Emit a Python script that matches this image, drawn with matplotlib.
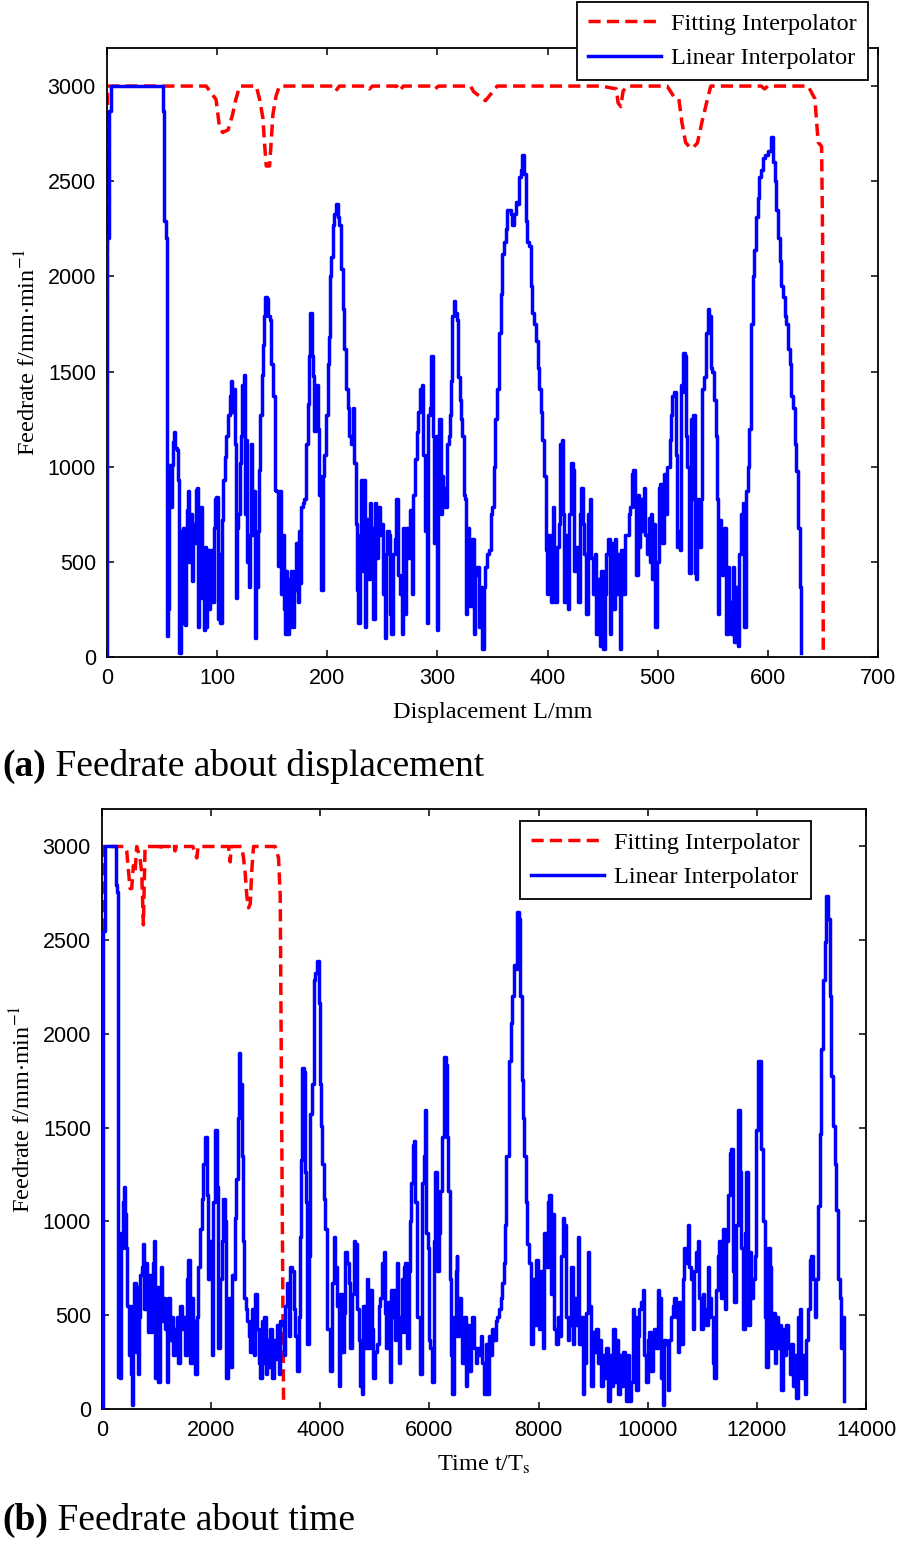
import matplotlib
matplotlib.use("Agg")
import matplotlib.pyplot as plt
from matplotlib.text import Annotation

# ------------------------------------------------------------
# data
# ------------------------------------------------------------
# (a) feedrate vs displacement, linear interpolator
disp_lin_L = [0, 0.3, 2, 4, 50.5, 51, 52, 54, 54.2, 55.7, 56.3, 58.1, 58.7, 59.6, 60.8, 61.7,
              63.3, 64.2, 65.4, 65.7, 66.9, 68.4, 69.3, 70.8, 71.7, 72.9, 73.8, 74.7, 75.9,
              76.8, 78.3, 79.8, 80.7, 81.9, 82.8, 83.7, 85.2, 86.7, 88.0, 88.9, 89.8, 91.0,
              92.5, 93.4, 94.9, 96.4, 97.3, 98.5, 99.4, 100.9, 101.8, 103.0, 104.2, 105.4,
              106.9, 108.4, 109.9, 111.4, 113.0, 113.9, 115.1, 116.0, 116.9, 118.1, 119.0,
              120.5, 122.0, 122.9, 124.1, 125.3, 126.5, 127.4, 128.6, 129.5, 131.0, 131.9,
              133.1, 134.3, 135.5, 137.0, 138.0, 139.2, 140.4, 141.6, 142.8, 143.7, 145.2,
              146.1, 147.6, 149.1, 150.6, 152.1, 153.6, 155.1, 156.6, 158.1, 159.6, 160.5,
              161.7, 162.7, 163.6, 164.8, 165.7, 167.2, 168.7, 170.2, 171.7, 173.2, 174.1,
              175.3, 176.2, 177.7, 179.2, 180.7, 182.2, 183.7, 184.6, 185.8, 186.7, 188.3,
              189.8, 191.3, 192.8, 193.7, 194.6, 195.8, 197.3, 198.8, 200.3, 201.2, 202.4,
              203.3, 204.8, 206.3, 207.8, 209.3, 210.8, 212.3, 213.9, 215.4, 216.9, 218.4,
              219.9, 221.4, 222.9, 224.4, 225.9, 227.4, 228.3, 229.3, 230.8, 232.3, 232.9,
              234.5, 235.4, 236.9, 238.4, 239.9, 241.5, 243.0, 244.5, 246.0, 247.6, 249.1,
              250.6, 252.1, 253.0, 254.3, 255.8, 257.3, 258.2, 259.8, 261.3, 262.8, 264.3,
              265.9, 267.4, 268.3, 269.8, 271.0, 271.9, 273.5, 275.0, 276.5, 278.0, 279.6,
              281.1, 282.6, 284.1, 285.7, 287.2, 288.7, 290.2, 291.8, 293.3, 294.2, 295.4,
              296.3, 297.3, 298.5, 299.4, 300.9, 301.8, 303.0, 303.9, 305.5, 307.0, 308.5,
              310.1, 311.0, 312.2, 313.4, 314.6, 316.2, 317.7, 318.6, 320.1, 321.3, 322.6,
              323.8, 325.3, 326.2, 326.8, 328.4, 329.9, 331.4, 332.9, 334.5, 336.0, 337.5,
              339.0, 340.6, 342.1, 343.6, 345.1, 346.6, 348.2, 349.7, 351.2, 352.7, 354.3,
              355.8, 357.3, 358.8, 360.4, 361.9, 363.4, 364.9, 366.5, 368.0, 369.5, 371.0,
              372.6, 374.1, 375.6, 377.1, 378.7, 380.2, 381.7, 383.2, 384.8, 386.3, 387.8,
              389.3, 390.9, 392.4, 393.9, 395.4, 397.0, 398.5, 399.4, 400.6, 401.8, 403.0,
              404.6, 405.5, 407.0, 408.5, 410.1, 411.6, 413.1, 414.3, 415.2, 416.8, 418.3,
              419.8, 421.3, 422.9, 424.4, 425.9, 427.4, 429.0, 430.5, 432.0, 433.5, 435.1,
              436.6, 438.1, 439.6, 441.2, 442.7, 444.2, 445.7, 447.3, 448.8, 450.3, 451.8,
              453.4, 454.9, 456.4, 457.9, 459.5, 461.0, 462.5, 464.0, 465.5, 467.1, 468.6,
              470.1, 473.5, 475.0, 476.5, 478.0, 479.6, 480.5, 481.7, 482.9, 484.1, 485.7,
              487.2, 488.7, 490.2, 491.8, 492.7, 493.9, 494.8, 496.3, 497.9, 499.4, 500.9,
              502.4, 504.0, 505.5, 507.0, 508.5, 510.1, 511.0, 512.2, 513.4, 514.6, 516.2,
              517.7, 519.2, 520.1, 521.3, 522.3, 523.2, 524.4, 525.6, 526.8, 528.4, 529.9,
              531.4, 532.3, 533.5, 534.8, 536.0, 537.5, 539.0, 540.5, 542.1, 543.6, 544.5,
              545.7, 546.6, 548.2, 549.7, 551.2, 552.7, 553.7, 554.9, 556.1, 557.3, 558.8,
              560.4, 561.9, 563.4, 564.9, 566.5, 568.0, 569.5, 571.0, 572.6, 574.1, 575.6,
              577.1, 578.7, 580.2, 581.7, 583.2, 584.8, 586.3, 587.8, 589.3, 590.9, 592.4,
              593.9, 595.4, 597.0, 600.0, 603.0, 604.6, 606.1, 607.6, 609.1, 610.7, 612.2,
              613.7, 615.2, 616.8, 618.3, 619.8, 621.3, 622.9, 624.4, 625.9, 627.4, 628.9,
              630.5]
disp_lin_f = [0, 2200, 2870, 3000, 3000, 2870, 2290, 2200, 110, 250, 1010, 790, 1010, 1130, 1180, 1100,
              1090, 930, 660, 20, 660, 180, 680, 170, 500, 770, 870, 500, 750,
              400, 700, 600, 880, 890, 160, 580, 790, 310, 140, 580, 160, 560,
              250, 560, 290, 290, 680, 830, 840, 200, 540, 180, 720, 930,
              1050, 1160, 1270, 1370, 1450, 1290, 1410, 1120, 310, 680, 750,
              1020, 1160, 1430, 1480, 750, 1140, 500, 370, 640, 1120, 640,
              870, 100, 370, 660, 980, 1270, 1480, 1640, 1790, 1890, 1880,
              1790, 1770, 1540, 1370, 880, 870, 480, 870, 330, 640, 250,
              120, 450, 120, 410, 160, 450, 160, 350, 600, 290, 660,
              390, 790, 810, 830, 1120, 1330, 1580, 1810, 1580, 1475, 1190,
              1430, 1200, 850, 950, 350, 950, 1060, 1270, 1540, 1680, 2000,
              2100, 2270, 2330, 2380, 2310, 2270, 2040, 1830, 1620, 1410, 1310,
              1160, 1120, 1310, 1020, 700, 350, 180, 640, 930, 450, 930,
              160, 725, 410, 810, 680, 200, 810, 520, 790, 640, 700,
              330, 100, 540, 660, 640, 225, 120, 540, 620, 830, 430,
              330, 120, 680, 475, 225, 680, 520, 770, 330, 850, 1040,
              1180, 1290, 1410, 1430, 1060, 660, 180, 1270, 1310, 1580, 1580,
              1160, 600, 1160, 140, 1140, 1250, 750, 950, 890, 790, 1120,
              1160, 1270, 1450, 1790, 1870, 1810, 1770, 1470, 1350, 1250, 1160,
              850, 830, 225, 680, 390, 270, 620, 120, 430, 475, 160,
              370, 40, 370, 475, 540, 560, 750, 790, 1000, 1250, 1410,
              1700, 1910, 2120, 2180, 2250, 2350, 2350, 2330, 2270, 2330, 2390,
              2380, 2520, 2560, 2640, 2540, 2290, 2180, 2160, 1950, 1810, 1750,
              1660, 1520, 1410, 1290, 1140, 950, 560, 330, 640, 370, 290,
              790, 560, 290, 580, 700, 1120, 1140, 750, 290, 640, 250,
              750, 1020, 980, 450, 580, 290, 750, 890, 700, 540, 225,
              750, 830, 520, 330, 540, 120, 410, 60, 450, 40, 330,
              540, 620, 120, 600, 250, 620, 330, 540, 40, 560, 330,
              640, 750, 790, 960, 980, 790, 430, 850, 580, 830, 660,
              890, 640, 540, 730, 500, 750, 410, 700, 160, 500, 890,
              910, 600, 960, 750, 1000, 1000, 1140, 1270, 1370, 1390, 1060,
              580, 660, 560, 1430, 1390, 1600, 1580, 1160, 1000, 440, 1250,
              830, 1270, 440, 410, 830, 580, 830, 1410, 1470, 1700, 1700,
              1830, 1790, 1520, 1500, 1350, 1160, 830, 225, 720, 475, 430,
              680, 120, 475, 290, 120, 475, 80, 370, 60, 540, 750,
              810, 160, 870, 1000, 1200, 1750, 2000, 2140, 2310, 2410, 2520,
              2560, 2620, 2640, 2660, 2730, 2600, 2500, 2350, 2200, 2080, 1950,
              1890, 1790, 1750, 1620, 1540, 1370, 1310, 1120, 975, 680, 370,
              20]

# (a) feedrate vs displacement, fitting interpolator
disp_fit_L = [0, 0.5, 90, 99, 102, 105, 110, 114, 117, 120.5, 135.5, 138.6, 141.6, 143, 144.6,
              147.6, 149, 150.6, 153.6, 156.6, 205, 207.8, 211, 236, 238.4, 241, 263, 265.9,
              269, 295, 297.9, 301, 330, 333, 343.6, 354.3, 448.8, 462.5, 464, 466.5, 468.6,
              473, 508.5, 514.6, 519.2, 522, 525.3, 528.4, 531.4, 536, 540.5, 545.1, 548.2,
              594, 597, 600, 636.6, 642.7, 645.7, 648.8, 649.7, 650.3]
disp_fit_f = [0, 3000, 3000, 2930, 2790, 2756, 2770, 2850, 2930, 3000, 3000, 2930, 2830, 2700, 2580,
              2580, 2700, 2850, 2950, 3000, 3000, 2975, 3000, 3000, 2985, 3000, 3000, 2975,
              3000, 3000, 2985, 3000, 3000, 2970, 2923, 3000, 3000, 2985, 2912, 2892, 2975,
              3000, 3000, 2945, 2933, 2808, 2704, 2683, 2673, 2700, 2820, 2930, 3000,
              3000, 2985, 3000, 3000, 2933, 2704, 2683, 2204, 20]

# (b) feedrate vs time, linear interpolator
time_lin_t = [0, 10, 50, 238, 257, 281, 300, 330, 342, 361, 379, 404, 422, 440, 465, 495, 514, 532,
              550, 575, 593, 618, 636, 654, 679, 697, 728, 758, 777, 801, 820, 850, 869, 893,
              911, 930, 954, 972, 1003, 1034, 1064, 1083, 1107, 1125, 1156, 1186, 1217, 1248,
              1278, 1309, 1339, 1370, 1400, 1431, 1462, 1492, 1523, 1553, 1584, 1615, 1645,
              1676, 1706, 1737, 1767, 1798, 1829, 1859, 1890, 1920, 1933, 1951, 1982, 2012,
              2043, 2073, 2104, 2134, 2165, 2196, 2226, 2257, 2275, 2300, 2318, 2349, 2379,
              2410, 2434, 2459, 2483, 2508, 2532, 2563, 2581, 2606, 2636, 2654, 2685, 2716,
              2746, 2777, 2807, 2838, 2868, 2899, 2930, 2948, 2972, 3003, 3021, 3052, 3082,
              3113, 3144, 3174, 3205, 3235, 3266, 3296, 3327, 3358, 3388, 3419, 3449, 3480,
              3511, 3541, 3572, 3603, 3633, 3651, 3670, 3694, 3712, 3731, 3755, 3786, 3816,
              3847, 3878, 3908, 3939, 3969, 3988, 4012, 4037, 4061, 4092, 4122, 4153, 4183,
              4214, 4245, 4275, 4306, 4336, 4367, 4397, 4428, 4459, 4489, 4520, 4550, 4581,
              4612, 4642, 4673, 4703, 4734, 4761, 4791, 4822, 4853, 4883, 4914, 4945, 4975,
              5006, 5037, 5068, 5098, 5129, 5160, 5178, 5209, 5233, 5264, 5282, 5301, 5325,
              5344, 5362, 5387, 5405, 5423, 5448, 5466, 5497, 5515, 5540, 5558, 5589, 5620,
              5638, 5650, 5669, 5693, 5712, 5742, 5773, 5804, 5834, 5865, 5896, 5926, 5945,
              5969, 5988, 6018, 6049, 6080, 6110, 6141, 6172, 6202, 6233, 6252, 6276, 6301,
              6325, 6344, 6368, 6387, 6417, 6448, 6479, 6497, 6509, 6540, 6571, 6601, 6632,
              6663, 6693, 6724, 6755, 6785, 6816, 6847, 6877, 6908, 6939, 6969, 7000, 7031,
              7061, 7092, 7123, 7153, 7184, 7215, 7245, 7276, 7307, 7337, 7368, 7386, 7411,
              7429, 7460, 7491, 7521, 7552, 7583, 7613, 7644, 7662, 7693, 7717, 7736, 7767,
              7797, 7828, 7859, 7889, 7920, 7951, 7981, 8012, 8043, 8074, 8104, 8135, 8166,
              8196, 8227, 8258, 8288, 8319, 8350, 8380, 8411, 8442, 8472, 8503, 8534, 8564,
              8595, 8626, 8656, 8687, 8718, 8748, 8779, 8810, 8840, 8871, 8902, 8932, 8963,
              8994, 9025, 9055, 9086, 9117, 9147, 9178, 9209, 9239, 9270, 9301, 9331, 9362,
              9393, 9423, 9454, 9485, 9515, 9546, 9577, 9602, 9633, 9664, 9694, 9725, 9755,
              9786, 9817, 9847, 9878, 9908, 9939, 9969, 10000, 10031, 10061, 10092, 10122,
              10153, 10184, 10214, 10245, 10275, 10306, 10337, 10367, 10398, 10428, 10459,
              10489, 10520, 10551, 10581, 10612, 10643, 10673, 10704, 10734, 10765, 10795,
              10826, 10856, 10887, 10918, 10948, 10979, 11009, 11040, 11070, 11101, 11132,
              11162, 11193, 11223, 11254, 11284, 11315, 11346, 11376, 11407, 11437, 11468,
              11499, 11529, 11560, 11590, 11621, 11651, 11682, 11713, 11743, 11774, 11804,
              11835, 11866, 11896, 11927, 11957, 11988, 12018, 12049, 12079, 12110, 12141,
              12171, 12202, 12232, 12263, 12294, 12324, 12355, 12385, 12416, 12447, 12477,
              12508, 12538, 12569, 12600, 12630, 12661, 12691, 12722, 12753, 12783, 12814,
              12845, 12875, 12906, 12936, 12967, 12998, 13028, 13059, 13089, 13120, 13151,
              13181, 13212, 13243, 13273, 13304, 13334, 13365, 13396, 13426, 13457, 13487,
              13518, 13549, 13579, 13598]
time_lin_f = [0, 2550, 3000, 3000, 2796, 2755, 170, 163, 939, 857, 1102, 1184, 1041, 857, 551, 286, 551, 184,
              20, 306, 673, 306, 653, 184, 490, 714, 755, 878, 531, 776, 694, 408, 714, 408,
              673, 776, 898, 163, 653, 143, 531, 755, 469, 592, 429, 143, 592, 367,
              490, 286, 429, 490, 245, 551, 429, 490, 286, 694, 796, 245, 592,
              469, 184, 490, 755, 959, 1122, 1306, 1449, 1408, 1143, 694, 898, 286,
              1102, 1490, 1184, 327, 694, 898, 1122, 1000, 163, 490, 592, 224, 714,
              694, 1020, 1224, 1551, 1898, 1735, 1347, 898, 592, 531, 469, 388, 306,
              531, 286, 612, 429, 245, 163, 469, 245, 490, 184, 367, 224, 429,
              163, 367, 265, 449, 184, 469, 449, 286, 551, 673, 388, 755, 735,
              531, 388, 204, 490, 918, 1327, 1816, 1796, 1265, 1102, 347, 816, 1571,
              1735, 2286, 2327, 2388, 2163, 1735, 1510, 1306, 1122, 959, 429, 429, 204,
              673, 918, 755, 551, 122, 612, 306, 510, 837, 776, 673, 327, 612,
              898, 878, 531, 367, 122, 82, 551, 327, 694, 327, 633, 429, 163,
              306, 347, 551, 592, 776, 837, 510, 327, 571, 327, 143, 633, 490,
              633, 367, 571, 776, 490, 245, 490, 694, 408, 755, 776, 327, 735,
              755, 1000, 1204, 1408, 1429, 1102, 490, 490, 184, 1204, 1347, 1592, 939,
              857, 367, 327, 143, 898, 1265, 735, 939, 1163, 1449, 1449, 1878, 1837,
              1449, 1163, 694, 286, 82, 490, 735, 816, 388, 592, 449, 245, 490,
              122, 449, 204, 388, 490, 327, 245, 327, 286, 388, 245, 82, 347,
              82, 388, 286, 429, 367, 469, 490, 531, 592, 673, 776, 980, 1347,
              1347, 1857, 2061, 2204, 2367, 2347, 2653, 2612, 2204, 1755, 1551, 1347, 1102,
              878, 776, 347, 694, 449, 796, 510, 429, 735, 327, 939, 755, 1102,
              1143, 612, 1041, 429, 347, 490, 388, 816, 1020, 980, 490, 367, 449,
              755, 347, 592, 449, 918, 347, 490, 82, 245, 510, 837, 551, 122,
              408, 306, 429, 245, 367, 122, 286, 163, 327, 41, 286, 122, 429,
              143, 367, 82, 286, 122, 306, 143, 41, 286, 41, 143, 531, 490,
              102, 388, 531, 571, 633, 286, 143, 367, 408, 204, 408, 429,
              327, 633, 592, 163, 20, 367, 347, 102, 367, 490, 551,
              592, 490, 306, 571, 347, 694, 857, 776, 980, 755, 694,
              429, 735, 837, 898, 592, 429, 612, 531, 449, 755, 592,
              490, 245, 163, 633, 816, 898, 592, 959, 531, 898, 1143,
              1365, 1388, 735, 571, 980, 1592, 1265, 857, 429, 939, 1265,
              449, 837, 592, 694, 816, 1490, 1857, 1857, 1388, 1000, 490,
              224, 857, 755, 327, 510, 245, 490, 327, 449, 102, 429,
              286, 449, 327, 184, 347, 122, 286, 61, 490, 531, 163,
              286, 82, 367, 531, 796, 816, 694, 490, 694, 1082, 1469,
              1918, 2286, 2490, 2735, 2612, 2204, 1776, 1510, 1306, 1061, 694,
              592, 327, 490, 41]

# (b) feedrate vs time, fitting interpolator
time_fit_t = [0, 20, 422, 453, 514, 544, 575, 605, 636, 697, 728, 758, 789, 1052, 1064, 1076, 1235,
              1248, 1260, 1327, 1339, 1358, 1664, 1706, 1737, 1761, 2318, 2349, 2367, 2563,
              2593, 2624, 2654, 2685, 2716, 2746, 2777, 3174, 3235, 3266, 3315, 3327]
time_fit_f = [0, 3000, 3000, 2976, 2776, 2776, 2898, 2857, 3000, 2939, 2857, 2582, 3000, 3000, 2976, 3000, 3000,
              2986, 3000, 3000, 2976, 3000, 3000, 2970, 2939, 3000, 3000, 2918, 3000, 3000,
              2939, 2857, 2735, 2673, 2694, 2878, 3000, 3000, 2939, 2735, 530, 20]

# ------------------------------------------------------------
SERIF = ["Liberation Serif", "DejaVu Serif"]
SANS = ["Liberation Sans", "DejaVu Sans"]
plt.rcParams["mathtext.fontset"] = "stix"
plt.rcParams["font.family"] = SANS

BLUE = "#0000ff"
RED = "#ff0000"
LW = 2.5
DASH = (0, (3.5, 1.8))

fig = plt.figure(figsize=(8.98, 15.41), dpi=100)
ax1 = fig.add_axes([0.11915, 0.57365, 0.85857, 0.39520])
ax2 = fig.add_axes([0.11359, 0.08566, 0.85078, 0.38936])


def style_axes(ax):
    for s in ax.spines.values():
        s.set_linewidth(1.3)
    ax.tick_params(direction="in", top=True, right=True, length=5, width=1.1,
                   labelsize=15.5, pad=8)
    ax.set_yticks([0, 500, 1000, 1500, 2000, 2500, 3000])
    ax.set_ylim(0, 3200)
    ax.set_ylabel(r"Feedrate f/mm$\cdot$min$^{-1}$", family=SERIF, fontsize=17.5, labelpad=5)


def add_legend(handles, corner):
    leg = fig.legend(handles=handles, loc="upper right", bbox_to_anchor=corner,
                     bbox_transform=fig.transFigure, prop={"family": SERIF, "size": 17.5},
                     fancybox=False, edgecolor="black", framealpha=1, handlelength=3.0,
                     borderpad=0.45, labelspacing=0.5, handletextpad=0.45, borderaxespad=0)
    leg.get_frame().set_linewidth(1.3)
    return leg


# panel (a)
l1, = ax1.plot(disp_fit_L, disp_fit_f, color=RED, lw=LW, ls=DASH, zorder=2,
               label="Fitting Interpolator")
l2, = ax1.plot(disp_lin_L, disp_lin_f, color=BLUE, lw=LW, drawstyle="steps-post", zorder=3,
               label="Linear Interpolator")
ax1.set_xlim(0, 700)
ax1.set_xticks(range(0, 701, 100))
style_axes(ax1)
ax1.set_xlabel("Displacement L/mm", family=SERIF, fontsize=17.5, labelpad=9)
add_legend([l1, l2], (868 / 898, 1 - 2 / 1541))

# panel (b)
m1, = ax2.plot(time_fit_t, time_fit_f, color=RED, lw=LW, ls=DASH, zorder=2,
               label="Fitting Interpolator")
m2, = ax2.plot(time_lin_t, time_lin_f, color=BLUE, lw=LW, drawstyle="steps-post", zorder=3,
               label="Linear Interpolator")
ax2.set_xlim(0, 14000)
ax2.set_xticks(range(0, 14001, 2000))
style_axes(ax2)
ax2.set_xlabel(r"Time t/T$_\mathrm{s}$", family=SERIF, fontsize=17.5, labelpad=9)
add_legend([m1, m2], (811 / 898, 1 - 821 / 1541))

# captions: bold tag followed by regular text
for tag, rest, ypix in [("(a)", " Feedrate about displacement", 766),
                        ("(b)", " Feedrate about time", 1520)]:
    t = fig.text(2 / 898, 1 - ypix / 1541, tag, family=SERIF, fontsize=27, weight="bold",
                 va="center", ha="left")
    fig.add_artist(Annotation(rest, xy=(1, 0), xycoords=t, va="bottom", ha="left",
                              family=SERIF, fontsize=27))

fig.savefig("out.png", dpi=100)
